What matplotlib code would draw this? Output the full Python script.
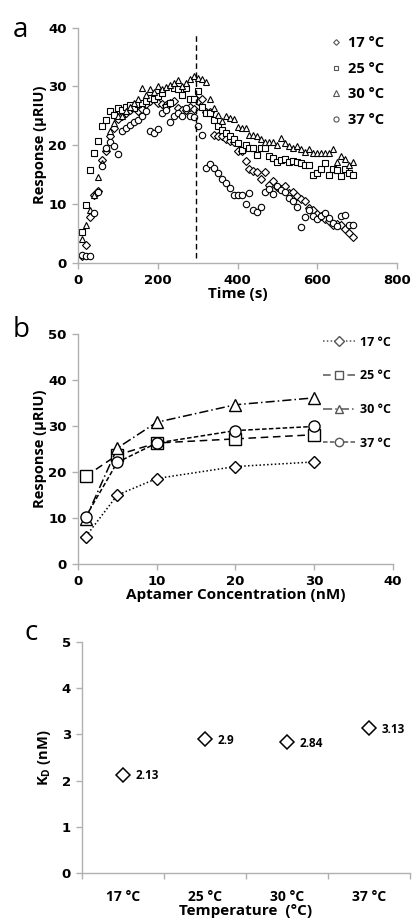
import matplotlib
matplotlib.use("Agg")
import matplotlib.pyplot as plt
import numpy as np

plt.rcParams['font.family'] = ['Open Sans', 'DejaVu Sans']
plt.rcParams['font.weight'] = 'bold'

# panel a: sensorgrams, one point every 10 s
time_s = np.arange(10, 700, 10)
resp_17 = [1.2, 3.0, 7.8, 11.5, 12.2, 17.5, 19.0, 21.5, 23.0, 24.5,
           25.0, 25.5, 26.0, 26.5, 25.8, 26.2, 27.0, 27.5, 28.2, 27.2,
           27.0, 26.8, 27.2, 27.5, 26.3, 26.0, 26.0, 26.5, 26.2, 27.5,
           27.8, 25.6, 25.6, 21.8, 21.5, 21.6, 21.0, 20.7, 20.5, 19.1,
           19.0, 17.3, 15.9, 15.6, 15.4, 14.2, 15.5, 13.3, 13.9, 12.9,
           12.5, 13.0, 11.9, 12.1, 11.3, 10.9, 10.5, 9.4, 9.0, 8.3,
           7.9, 7.5, 7.1, 6.4, 6.6, 6.5, 5.7, 5.1, 4.4]
resp_25 = [5.3, 9.9, 15.8, 18.7, 20.8, 23.2, 24.3, 25.8, 25.2, 26.3,
           26.0, 26.5, 26.8, 26.3, 27.0, 27.2, 27.5, 28.0, 27.8, 28.3,
           28.8, 26.5, 27.2, 29.8, 29.5, 28.6, 29.8, 27.9, 27.8, 29.2,
           26.5, 25.5, 25.5, 24.3, 23.2, 22.6, 22.1, 21.6, 21.1, 20.3,
           19.2, 20.1, 19.6, 19.6, 18.3, 19.6, 19.5, 18.2, 17.9, 17.2,
           17.5, 17.6, 17.2, 17.3, 17.2, 17.0, 16.7, 16.7, 15.0, 15.3,
           16.0, 16.9, 15.0, 16.0, 15.8, 14.8, 15.9, 15.3, 15.0]
resp_30 = [4.1, 6.4, 9.0, 11.5, 14.6, 17.0, 19.5, 22.4, 23.8, 24.9,
           25.0, 25.8, 26.5, 27.2, 27.8, 29.8, 28.5, 29.5, 29.0, 30.1,
           29.5, 29.9, 30.3, 30.6, 31.1, 30.0, 30.5, 31.2, 31.7, 31.4,
           31.2, 30.8, 27.8, 26.4, 25.2, 24.2, 24.9, 24.7, 24.5, 23.1,
           23.0, 22.9, 21.8, 21.8, 21.6, 21.0, 20.5, 20.6, 20.5, 20.0,
           21.2, 20.4, 19.9, 19.6, 19.9, 19.3, 18.9, 19.4, 18.6, 18.7,
           18.7, 18.6, 18.6, 19.3, 17.2, 18.2, 17.6, 16.7, 17.2]
resp_37 = [1.4, 1.2, 1.1, 8.5, 12.0, 16.5, 19.5, 20.5, 19.8, 18.5,
           22.5, 23.0, 23.5, 24.0, 24.3, 25.0, 25.8, 22.5, 22.0, 22.8,
           25.5, 26.0, 24.0, 25.0, 25.5, 25.0, 26.3, 25.0, 24.8, 23.2,
           21.7, 16.1, 16.8, 16.2, 15.3, 14.3, 13.5, 12.7, 11.5, 11.5,
           11.5, 10.0, 11.8, 9.0, 8.6, 9.5, 12.0, 12.5, 11.7, 13.0,
           12.3, 12.0, 11.0, 10.5, 9.5, 6.1, 7.8, 9.0, 8.0, 7.5,
           7.9, 8.4, 7.6, 6.8, 6.3, 7.9, 8.2, 6.5, 6.5]
injection_end = 295

# panel b: response vs aptamer concentration
conc_nM = [1, 5, 10, 20, 30]
conc_17 = [6.0, 15.0, 18.6, 21.2, 22.2]
conc_25 = [19.1, 23.7, 26.3, 27.2, 28.1]
conc_30 = [9.9, 25.2, 30.8, 34.6, 36.1]
conc_37 = [10.3, 22.1, 26.3, 29.0, 29.9]

# panel c: KD per temperature
temps = ['17 °C', '25 °C', '30 °C', '37 °C']
kd_nM = [2.13, 2.9, 2.84, 3.13]

labels = ['17 °C', '25 °C', '30 °C', '37 °C']
markers = ['D', 's', '^', 'o']
spine_col = '#b0b0b0'
tick_font = 'DejaVu Sans'


def style_axes(ax, size=9.5):
    for s in ['top', 'right']:
        ax.spines[s].set_visible(False)
    for s in ['left', 'bottom']:
        ax.spines[s].set_color(spine_col)
        ax.spines[s].set_linewidth(1.0)
    ax.tick_params(color=spine_col, length=4, width=1, labelsize=size, pad=4)
    for t in ax.get_xticklabels() + ax.get_yticklabels():
        t.set_fontweight('bold')
        t.set_fontfamily(tick_font)


fig = plt.figure(figsize=(4.12, 9.22), dpi=100)

# ---- a
ax = fig.add_axes([0.189, 0.715, 0.775, 0.255])
series_a = [resp_17, resp_25, resp_30, resp_37]
sizes_a = [3.6, 4.2, 4.6, 4.6]
for y, m, lab, ms in zip(series_a, markers, labels, sizes_a):
    ax.plot(time_s, y, linestyle='none', marker=m, ms=ms, mfc='white',
            mec='black', mew=0.8, label=lab)
ax.axvline(injection_end, ymin=0.02, ymax=0.97, color='black', ls=(0, (4, 2.5)), lw=1.0)
ax.set_xlim(0, 800)
ax.set_ylim(0, 40)
ax.set_xticks([0, 200, 400, 600, 800])
ax.set_yticks([0, 10, 20, 30, 40])
ax.set_xlabel('Time (s)', fontsize=11, fontweight='bold', labelpad=0)
ax.set_ylabel('Response (µRIU)', fontsize=10.5, fontweight='bold', labelpad=1)
style_axes(ax)
leg = ax.legend(loc='upper right', bbox_to_anchor=(1.0, 1.02), frameon=False,
                handlelength=0.6, handletextpad=0.5, labelspacing=0.8,
                prop={'weight': 'bold', 'size': 10.5}, markerscale=0.8)
for h in leg.legend_handles:
    h.set_markeredgecolor('#555555')
fig.text(0.03, 0.968, 'a', fontsize=20, fontweight='normal', va='center')

# ---- b
ax = fig.add_axes([0.189, 0.388, 0.765, 0.25])
series_b = [conc_17, conc_25, conc_30, conc_37]
styles_b = [(0, (1, 1.5)), (0, (5, 3)), (0, (6, 2, 1, 2)), (0, (3, 1.5))]
sizes_b = [6.5, 8, 8, 8]
for y, m, lab, ls, ms in zip(series_b, markers, labels, styles_b, sizes_b):
    ax.plot(conc_nM, y, linestyle=ls, color='black', lw=1.1, marker=m, ms=ms,
            mfc='white', mec='black', mew=1.0, label=lab)
ax.set_xlim(0, 40)
ax.set_ylim(0, 50)
ax.set_xticks([0, 10, 20, 30, 40])
ax.set_yticks([0, 10, 20, 30, 40, 50])
ax.set_xlabel('Aptamer Concentration (nM)', fontsize=11, fontweight='bold', labelpad=0)
ax.set_ylabel('Response (µRIU)', fontsize=10.5, fontweight='bold', labelpad=1)
style_axes(ax)
leg = ax.legend(loc='upper right', bbox_to_anchor=(1.03, 1.04), frameon=False,
                handlelength=2.6, handletextpad=0.4, labelspacing=1.65,
                prop={'weight': 'bold', 'size': 9}, markerscale=0.75)
for h in leg.legend_handles:
    h.set_color('#555555')
    h.set_markeredgecolor('#555555')
fig.text(0.03, 0.642, 'b', fontsize=20, fontweight='normal', va='center')

# ---- c
ax = fig.add_axes([0.199, 0.053, 0.796, 0.251])
xpos = np.arange(len(temps))
ax.plot(xpos, kd_nM, linestyle='none', marker='D', ms=7, mfc='white',
        mec='black', mew=1.1)
for xi, v in zip(xpos, kd_nM):
    ax.annotate(f'{v:g}', (xi, v), xytext=(9, -1), textcoords='offset points',
                va='center', ha='left', fontsize=8.5, fontweight='bold')
ax.set_xlim(-0.5, len(temps) - 0.5)
ax.set_ylim(0, 5)
ax.set_yticks([0, 1, 2, 3, 4, 5])
ax.set_xticks(xpos)
ax.set_xticklabels(temps)
ax.set_xticks(np.arange(-0.5, len(temps)), minor=True)
ax.set_xlabel('Temperature  (°C)', fontsize=11, fontweight='bold', labelpad=0)
ax.set_ylabel('K$_\\mathregular{D}$ (nM)', fontsize=10.5, fontweight='bold', labelpad=6)
style_axes(ax)
for t in ax.get_xticklabels():
    t.set_fontfamily(['Open Sans', 'DejaVu Sans'])
    t.set_fontsize(10)
ax.tick_params(axis='x', which='major', length=0, pad=12)
ax.tick_params(axis='x', which='minor', length=4, color=spine_col, width=1)
fig.text(0.06, 0.313, 'c', fontsize=20, fontweight='normal', va='center')

fig.savefig('out.png', dpi=100)
